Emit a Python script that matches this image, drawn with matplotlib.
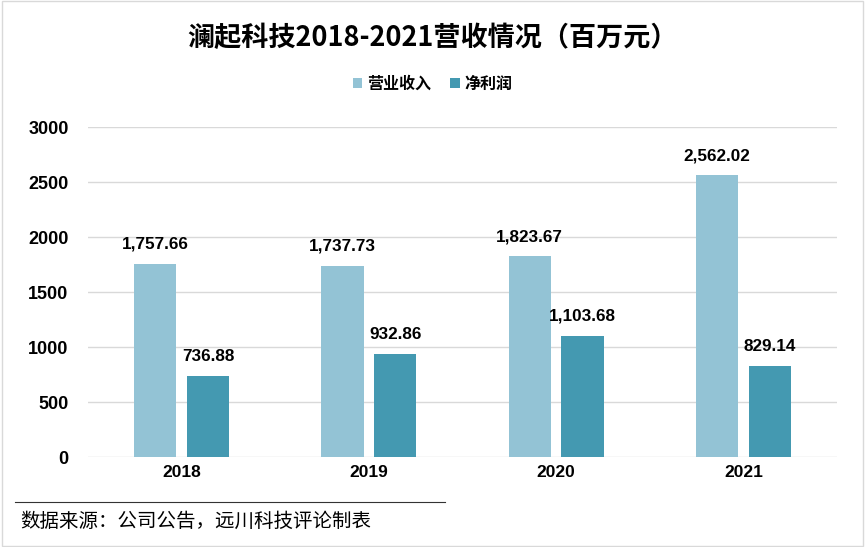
import numpy as np
import matplotlib.pyplot as plt
from matplotlib.patches import Rectangle

plt.rcParams['font.family'] = ['Liberation Sans', 'Noto Sans CJK SC', 'DejaVu Sans']

# data
years = ['2018', '2019', '2020', '2021']
revenue = [1757.66, 1737.73, 1823.67, 2562.02]
net_profit = [736.88, 932.86, 1103.68, 829.14]
yticks = [0, 500, 1000, 1500, 2000, 2500, 3000]

c_rev = '#93C3D5'
c_net = '#4499B1'

fig = plt.figure(figsize=(8.65, 5.47), dpi=100)
ax = fig.add_axes([0.1017, 0.1645, 0.8659, 0.6033])

x = np.arange(len(years))
w = 0.225
off = 0.141
b1 = ax.bar(x - off, revenue, w, color=c_rev, label='营业收入', zorder=3)
b2 = ax.bar(x + off, net_profit, w, color=c_net, label='净利润', zorder=3)

# value labels
for rects, vals in [(b1, revenue), (b2, net_profit)]:
    for r, v in zip(rects, vals):
        ax.text(r.get_x() + r.get_width() / 2, v + 110, f'{v:,.2f}',
                ha='center', va='bottom', fontsize=12.3, fontweight='bold')

ax.set_xlim(-0.5, len(years) - 0.5)
ax.set_ylim(0, 3000)
ax.set_yticks(yticks)
ax.set_yticklabels([str(t) for t in yticks], fontsize=13, fontweight='bold')
ax.set_xticks(x)
ax.set_xticklabels(years, fontsize=12.5, fontweight='bold')
ax.tick_params(length=0, pad=14)
ax.tick_params(axis='x', pad=6)
ax.grid(axis='y', color='#D9D9D9', linewidth=1, zorder=0)
for s in ax.spines.values():
    s.set_visible(False)

# title and legend
fig.text(0.5, 0.93, '澜起科技2018-2021营收情况（百万元）', ha='center', va='center',
         fontsize=19.5, fontweight='bold', family=['Noto Sans CJK SC'])
fig.legend(loc='center', bbox_to_anchor=(0.5, 0.847), ncol=2, frameon=False,
           prop={'family': ['Noto Sans CJK SC'], 'size': 11.5, 'weight': 'bold'},
           handlelength=0.6, handleheight=0.6, handletextpad=0.3, columnspacing=1.2)

# source note
fig.add_artist(plt.Line2D([15 / 865, 445 / 865], [1 - 502 / 547] * 2, color='#333333', lw=0.8))
fig.text(20 / 865, 1 - 521 / 547, '数据来源：公司公告，远川科技评论制表', ha='left', va='center',
         fontsize=14, family=['Noto Sans CJK SC'])

# light frame around figure
fig.add_artist(Rectangle((0.002, 0.002), 0.996, 0.996, transform=fig.transFigure,
                         fill=False, edgecolor='#D9D9D9', lw=1))

fig.savefig('out.png', dpi=100)
